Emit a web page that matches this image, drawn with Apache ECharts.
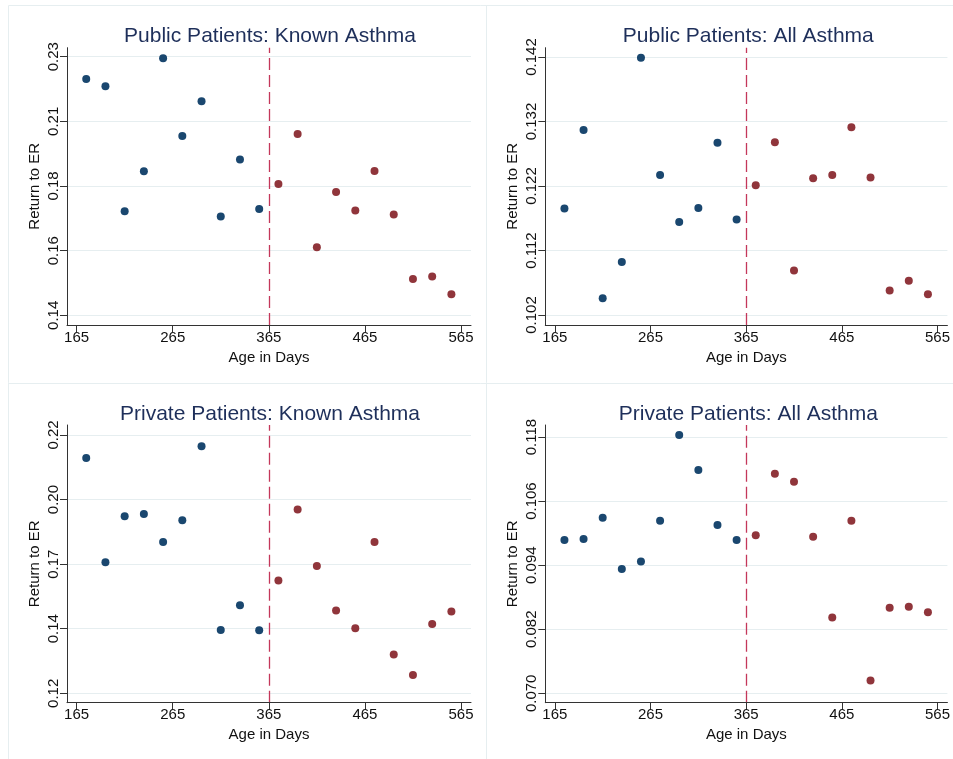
<!DOCTYPE html>
<html>
<head>
<meta charset="utf-8">
<script src="https://cdn.jsdelivr.net/npm/echarts@6/dist/echarts.min.js"></script>
<style>
html,body{margin:0;padding:0;background:#fff;}
#c{width:953px;height:759px;}
</style>
</head>
<body>
<div id="c"></div>
<script>
// ---- data ----
const daysBefore = [175, 195, 215, 235, 255, 275, 295, 315, 335, 355];
const daysAfter  = [375, 395, 415, 435, 455, 475, 495, 515, 535, 555];
const cutoffDay = 365;
const xTicks = [165, 265, 365, 465, 565];

const titles = [
  'Public Patients: Known Asthma',
  'Public Patients: All Asthma',
  'Private Patients: Known Asthma',
  'Private Patients: All Asthma'
];

const pubKnownBefore  = [0.2222, 0.2197, 0.1762, 0.1901, 0.2295, 0.2024, 0.2145, 0.1744, 0.1942, 0.1770];
const pubKnownAfter   = [0.1857, 0.2031, 0.1637, 0.1829, 0.1765, 0.1902, 0.1751, 0.1526, 0.1535, 0.1473];
const pubAllBefore    = [0.1185, 0.1307, 0.1046, 0.1102, 0.1419, 0.1237, 0.1164, 0.1186, 0.1287, 0.1168];
const pubAllAfter     = [0.1221, 0.1288, 0.1089, 0.1232, 0.1237, 0.1311, 0.1233, 0.1058, 0.1073, 0.1052];
const privKnownBefore = [0.2111, 0.1707, 0.1885, 0.1894, 0.1786, 0.1870, 0.2156, 0.1445, 0.1541, 0.1444];
const privKnownAfter  = [0.1637, 0.1912, 0.1693, 0.1521, 0.1452, 0.1786, 0.1350, 0.1271, 0.1468, 0.1517];
const privAllBefore   = [0.0987, 0.0989, 0.1029, 0.0933, 0.0947, 0.1023, 0.1184, 0.1118, 0.1015, 0.0987];
const privAllAfter    = [0.0996, 0.1111, 0.1096, 0.0993, 0.0842, 0.1023, 0.0724, 0.0860, 0.0862, 0.0852];

const yTicks1 = [0.14, 0.1625, 0.185, 0.2075, 0.23];
const yLabels1 = ['0.14', '0.16', '0.18', '0.21', '0.23'];
const yTicks2 = [0.102, 0.112, 0.122, 0.132, 0.142];
const yLabels2 = ['0.102', '0.112', '0.122', '0.132', '0.142'];
const yTicks3 = [0.12, 0.145, 0.17, 0.195, 0.22];
const yLabels3 = ['0.12', '0.14', '0.17', '0.20', '0.22'];
const yTicks4 = [0.070, 0.082, 0.094, 0.106, 0.118];
const yLabels4 = ['0.070', '0.082', '0.094', '0.106', '0.118'];

// ---- layout / style ----
const FONT = '"Liberation Sans", Arial, Helvetica, sans-serif';
const BLUE = '#1a476f', RED = '#90353b', CUT = '#c4375a', GRID = '#e6eef0', AXIS = '#333333';
const panels = [
  {grid:{left:67, right:482, top:47.7, bottom:434}, ymin:0.13662, ymax:0.23313, ticks:yTicks1, labels:yLabels1, before:pubKnownBefore, after:pubKnownAfter, titleTop:21},
  {grid:{left:545.3, right:3.7, top:47.7, bottom:434}, ymin:0.10045, ymax:0.14344, ticks:yTicks2, labels:yLabels2, before:pubAllBefore, after:pubAllAfter, titleTop:21},
  {grid:{left:67, right:482, top:425, bottom:56.3}, ymin:0.11636, ymax:0.22387, ticks:yTicks3, labels:yLabels3, before:privKnownBefore, after:privKnownAfter, titleTop:399},
  {grid:{left:545.3, right:3.7, top:425, bottom:56.3}, ymin:0.06824, ymax:0.12025, ticks:yTicks4, labels:yLabels4, before:privAllBefore, after:privAllAfter, titleTop:399}
];

const grids = [], xAxes = [], yAxes = [], series = [], titleOpts = [];
panels.forEach((p, i) => {
  grids.push(p.grid);
  const plotW = 953 - p.grid.left - p.grid.right;
  titleOpts.push({
    text: titles[i], left: p.grid.left + plotW / 2 - 4, top: p.titleTop, textAlign: 'center',
    textStyle: {fontFamily: FONT, fontSize: 21, fontWeight: 'normal', color: '#1e2f5a'}
  });
  xAxes.push({
    type: 'value', gridIndex: i, min: 155, max: 575.4,
    name: 'Age in Days', nameLocation: 'middle', nameGap: 25,
    nameTextStyle: {fontFamily: FONT, fontSize: 15, color: '#111'},
    axisLine: {show: true, onZero: false, lineStyle: {color: AXIS, width: 1}},
    axisTick: {show: true, length: 7, customValues: xTicks, lineStyle: {color: AXIS}},
    axisLabel: {customValues: xTicks, fontFamily: FONT, fontSize: 15, color: '#111', margin: 5},
    splitLine: {show: false}
  });
  const ticks = p.ticks, labels = p.labels;
  yAxes.push({
    type: 'value', gridIndex: i, min: p.ymin, max: p.ymax,
    name: 'Return to ER', nameLocation: 'middle', nameGap: 25, nameRotate: 90,
    nameTextStyle: {fontFamily: FONT, fontSize: 15, color: '#111'},
    axisLine: {show: true, onZero: false, lineStyle: {color: AXIS, width: 1}},
    axisTick: {show: true, length: 7, customValues: ticks, lineStyle: {color: AXIS}},
    axisLabel: {
      customValues: ticks, rotate: 90, fontFamily: FONT, fontSize: 15, color: '#111', margin: 6,
      formatter: function (v) {
        let best = 0, d = Infinity;
        ticks.forEach((t, k) => { const dd = Math.abs(t - v); if (dd < d) { d = dd; best = k; } });
        return labels[best];
      }
    },
    splitLine: {show: false}
  });
  // gridlines + cutoff line
  const ml = ticks.map(t => ({yAxis: t, lineStyle: {color: GRID, width: 1, type: 'solid'}}));
  ml.push({xAxis: cutoffDay, lineStyle: {color: CUT, width: 1.3, type: [12, 5]}});
  series.push({
    type: 'scatter', xAxisIndex: i, yAxisIndex: i, data: [], z: 0, silent: true,
    markLine: {silent: true, z: 0, precision: 6, symbol: ['none', 'none'], label: {show: false}, animation: false, data: ml}
  });
  series.push({
    type: 'scatter', xAxisIndex: i, yAxisIndex: i, z: 4, symbolSize: 8,
    itemStyle: {color: BLUE, opacity: 1},
    data: daysBefore.map((d, k) => [d, p.before[k]])
  });
  series.push({
    type: 'scatter', xAxisIndex: i, yAxisIndex: i, z: 4, symbolSize: 8,
    itemStyle: {color: RED, opacity: 1},
    data: daysAfter.map((d, k) => [d, p.after[k]])
  });
});

const chart = echarts.init(document.getElementById('c'), null, {renderer: 'canvas'});
chart.setOption({
  animation: false,
  backgroundColor: '#ffffff',
  title: titleOpts,
  grid: grids,
  xAxis: xAxes,
  yAxis: yAxes,
  series: series,
  graphic: [
    {type: 'line', silent: true, z: -1, shape: {x1: 8.5, y1: 5.5, x2: 8.5, y2: 759}, style: {stroke: GRID, lineWidth: 1}},
    {type: 'line', silent: true, z: -1, shape: {x1: 486.5, y1: 5.5, x2: 486.5, y2: 759}, style: {stroke: GRID, lineWidth: 1}},
    {type: 'line', silent: true, z: -1, shape: {x1: 8.5, y1: 5.5, x2: 953, y2: 5.5}, style: {stroke: GRID, lineWidth: 1}},
    {type: 'line', silent: true, z: -1, shape: {x1: 8.5, y1: 383.5, x2: 953, y2: 383.5}, style: {stroke: GRID, lineWidth: 1}}
  ]
});
</script>
</body>
</html>
